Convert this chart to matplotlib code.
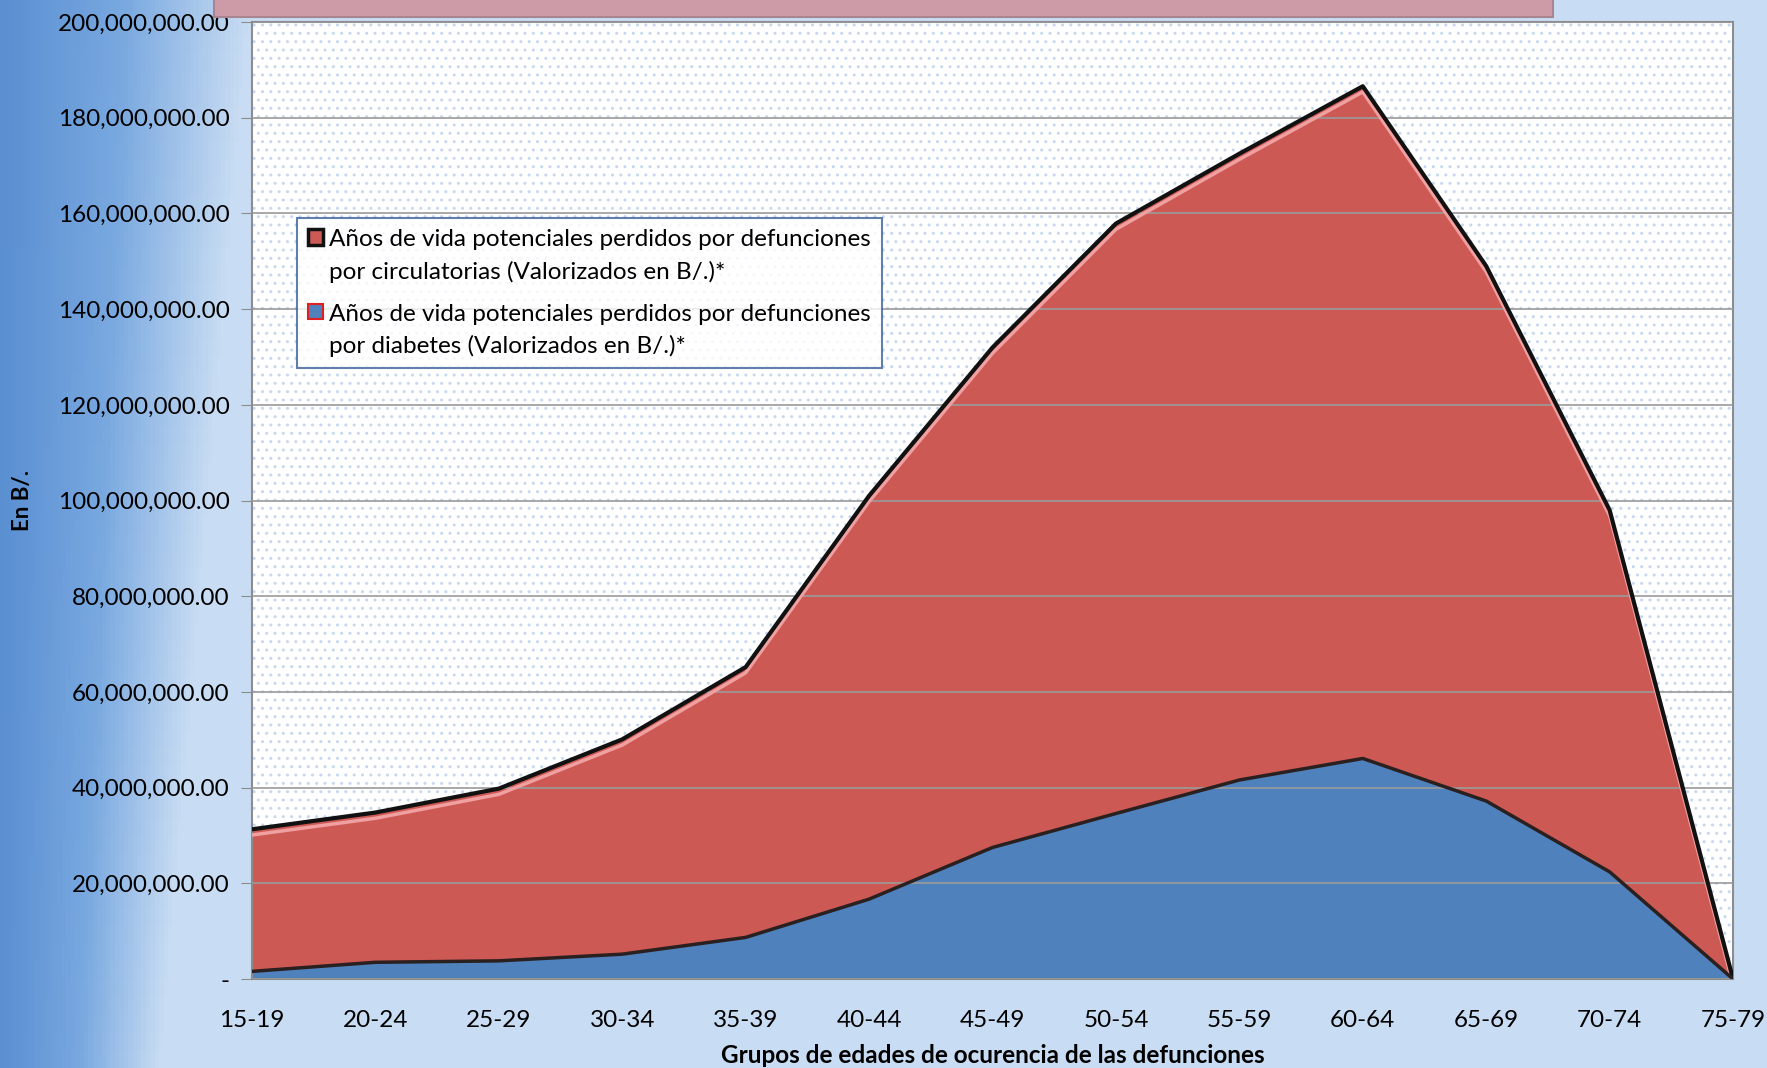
import matplotlib.pyplot as plt
import matplotlib.patches as mpatches
from matplotlib.colors import LinearSegmentedColormap
from matplotlib.legend_handler import HandlerPatch
from matplotlib.ticker import FuncFormatter, MultipleLocator
import numpy as np

plt.rcParams['font.family'] = ['Lato', 'DejaVu Sans']

grupos = ['15-19', '20-24', '25-29', '30-34', '35-39', '40-44', '45-49',
          '50-54', '55-59', '60-64', '65-69', '70-74', '75-79']
# valores (B/.)
diabetes = [1.6e6, 3.5e6, 3.8e6, 5.2e6, 8.7e6, 16.7e6, 27.5e6,
            34.6e6, 41.6e6, 46.1e6, 37.2e6, 22.4e6, 0.0]
total = [31.3e6, 34.8e6, 39.8e6, 50.1e6, 65.2e6, 101.0e6, 132.0e6,
         157.9e6, 172.5e6, 186.6e6, 149.0e6, 98.0e6, 0.0]
circulatorias = [t - d for t, d in zip(total, diabetes)]

lbl_circ = 'Años de vida potenciales perdidos por defunciones\npor circulatorias (Valorizados en B/.)*'
lbl_diab = 'Años de vida potenciales perdidos por defunciones\npor diabetes (Valorizados en B/.)*'

fig = plt.figure(figsize=(17.67, 10.68), dpi=100, facecolor='#c8dcf3')

# fondo degradado (azul oscuro a la izquierda)
bg = fig.add_axes([0, 0, 1, 1], zorder=-5)
grad = np.tile(np.linspace(0, 1, 400), (60, 1))
yy = np.linspace(1, 0, 60)[:, None]
grad = np.clip(grad / (0.09 + 0.05 * yy) , 0, 1)
cmap = LinearSegmentedColormap.from_list('bgc', ['#5a8fd2', '#7aa9e0', '#c8dcf3'])
bg.imshow(grad, aspect='auto', cmap=cmap, extent=[0, 1, 0, 1])
bg.set_axis_off()

# caja del titulo (cortada en la imagen original)
fig.patches.append(mpatches.Rectangle((0.121, 0.984), 0.758, 0.03, transform=fig.transFigure,
                                      facecolor='#cc9ba7', edgecolor='#a98590', lw=1.5, zorder=1))

ax = fig.add_axes([0.1426, 0.0833, 0.8382, 0.896])
x = np.arange(len(grupos))

ax.add_patch(mpatches.Rectangle((0, 0), 1, 1, transform=ax.transAxes, facecolor='white',
                                edgecolor='#c7d8ee', hatch='..', lw=0, zorder=0))

ax.fill_between(x, 0, diabetes, color='#4f81bd', zorder=2, lw=0, label=lbl_diab)
ax.fill_between(x, diabetes, total, color='#cd5955', zorder=2, lw=0, label=lbl_circ)
ax.plot(x, np.array(total) - 1.2e6, color='#f0a0a0', lw=2.5, zorder=3)
ax.plot(x, total, color='#111111', lw=3, zorder=4)
ax.plot(x, diabetes, color='#2a2020', lw=2.5, zorder=4)

ax.set_xlim(0, len(grupos) - 1)
ax.set_ylim(0, 200e6)
ax.yaxis.set_major_locator(MultipleLocator(20e6))
ax.yaxis.set_major_formatter(FuncFormatter(lambda v, p: '-' if v == 0 else f'{v:,.2f}'))
ax.set_xticks(x)
ax.set_xticklabels(grupos)
ax.grid(axis='y', color='#9a9a9a', lw=1.2, zorder=1)
ax.set_axisbelow(False)
for s in ax.spines.values():
    s.set_color('#8c8c8c')
    s.set_linewidth(1.5)
ax.tick_params(axis='y', labelsize=17.5, length=8, color='#8c8c8c', pad=8, direction='out')
ax.tick_params(axis='x', labelsize=17.5, length=0, pad=22)

ax.set_xlabel('Grupos de edades de ocurencia de las defunciones', fontsize=17.5, fontweight='bold', labelpad=10)
ax.set_ylabel('En B/.', fontsize=16, fontweight='bold', labelpad=18)


def top_patch(legend, orig_handle, xdescent, ydescent, width, height, fontsize):
    # marcador alineado con la primera linea del texto
    return mpatches.Rectangle((-xdescent, -ydescent + 0.78 * fontsize), width, height)


h_circ = mpatches.Patch(facecolor='#cd5955', edgecolor='#111111', lw=2.5)
h_diab = mpatches.Patch(facecolor='#4f81bd', edgecolor='#e02020', lw=1.5)
leg = ax.legend([h_circ, h_diab], [lbl_circ, lbl_diab], loc='upper left',
                bbox_to_anchor=(0.0225, 0.808), fontsize=17.5, frameon=True, fancybox=False,
                handlelength=0.6, handleheight=0.6, handletextpad=0.25, borderpad=0.45,
                labelspacing=0.85,
                handler_map={mpatches.Patch: HandlerPatch(patch_func=top_patch)})
leg.get_frame().set_edgecolor('#3a5f9a')
leg.get_frame().set_linewidth(1.5)
for t in leg.get_texts():
    t.set_linespacing(1.6)
leg.set_zorder(6)

fig.savefig('out.png', dpi=100, facecolor=fig.get_facecolor())
